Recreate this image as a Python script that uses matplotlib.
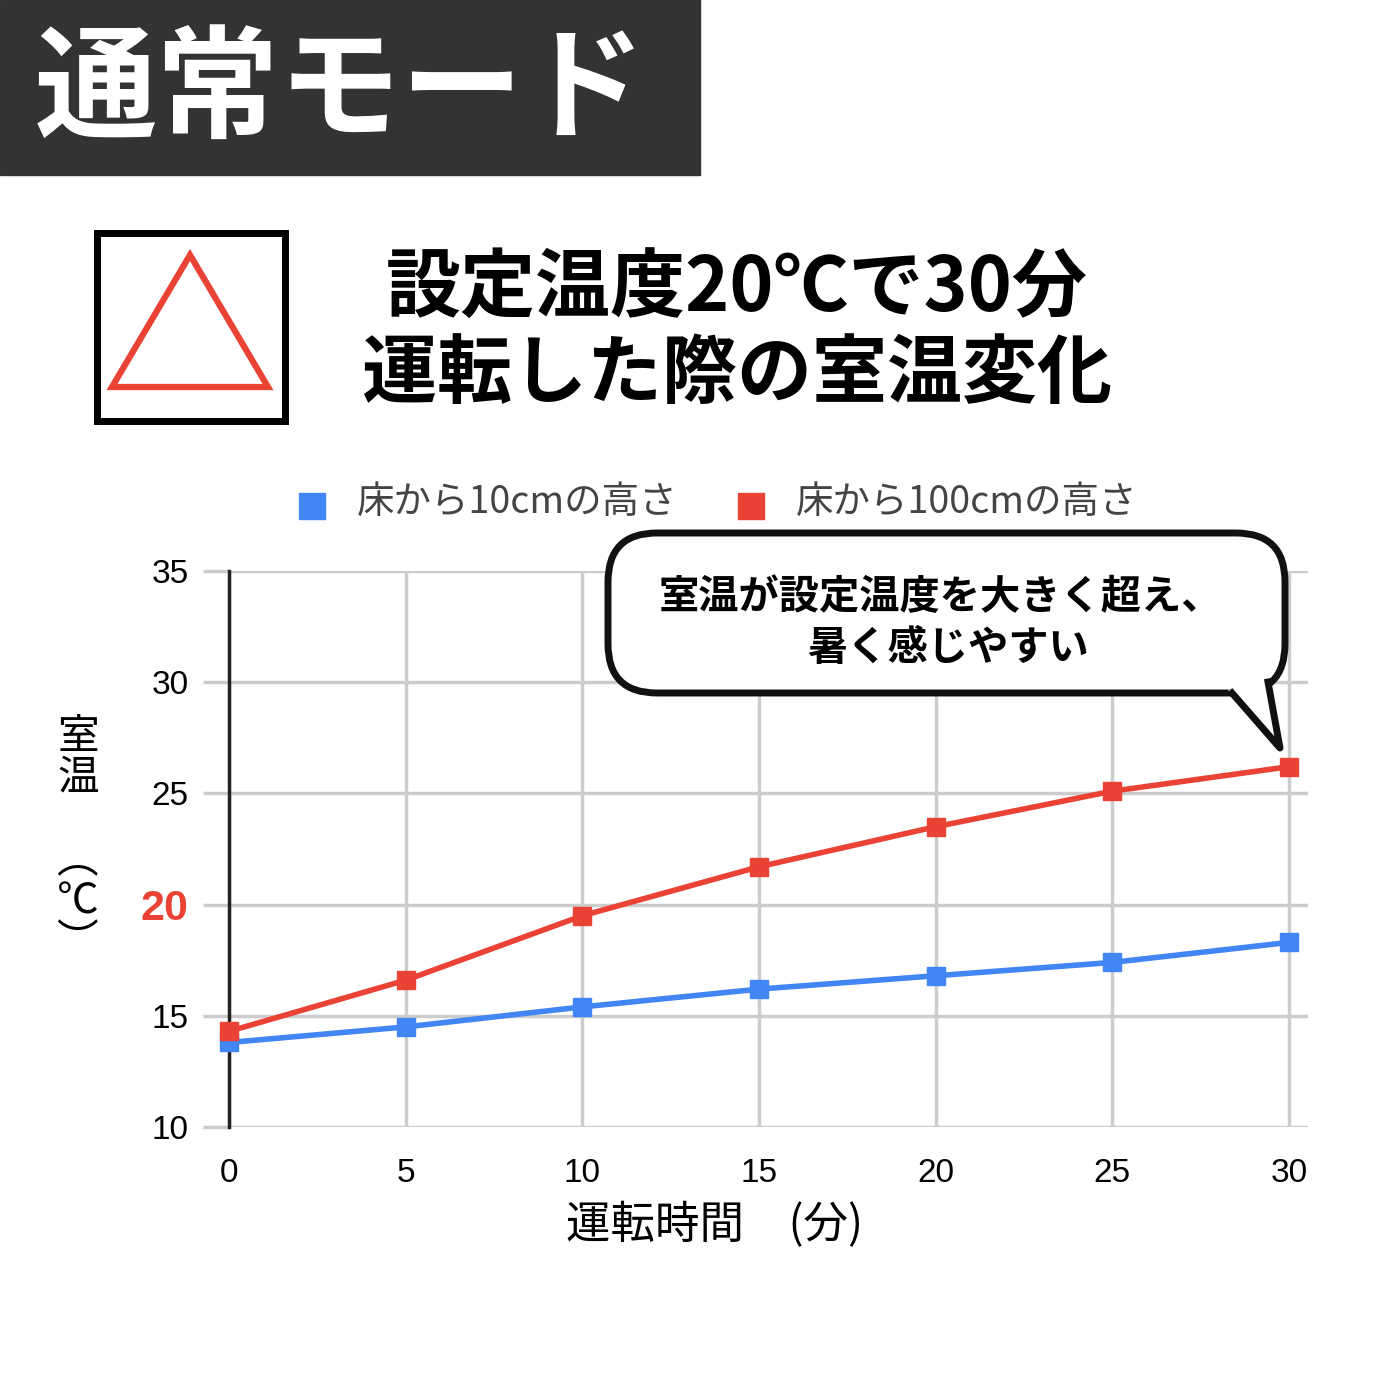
import matplotlib.pyplot as plt
from matplotlib.patches import Rectangle, Polygon, FancyBboxPatch
from matplotlib.lines import Line2D

plt.rcParams['font.family'] = ['Noto Sans CJK JP', 'DejaVu Sans']

minutes = [0, 5, 10, 15, 20, 25, 30]
temp_10cm = [13.8, 14.5, 15.4, 16.2, 16.8, 17.4, 18.3]
temp_100cm = [14.3, 16.6, 19.5, 21.7, 23.5, 25.1, 26.2]
yticks = [10, 15, 20, 25, 30, 35]
blue = "#4285f4"
red = "#ea4335"

W = 1400
fig = plt.figure(figsize=(14, 14), dpi=100)

def fx(px):
    return px / W

def fy(py):
    return 1 - py / W

# header block
fig.patches.append(Rectangle((0, fy(175)), fx(700), 175 / W, transform=fig.transFigure,
                             color="#333333", zorder=0))
fig.text(fx(340), fy(92), "通常モード", color="white", fontsize=88, fontweight="bold",
         ha="center", va="center")

# triangle box
fig.patches.append(Rectangle((fx(97), fy(421)), 188 / W, 188 / W, transform=fig.transFigure,
                             fill=False, edgecolor="black", lw=5))
fig.patches.append(Polygon([(fx(190), fy(255)), (fx(112), fy(387)), (fx(268), fy(387))],
                           closed=True, transform=fig.transFigure, fill=False,
                           edgecolor=red, lw=4.5))

fig.text(fx(737), fy(290), "設定温度20℃で30分", fontsize=54, fontweight="bold",
         ha="center", va="center")
fig.text(fx(737), fy(375), "運転した際の室温変化", fontsize=54, fontweight="bold",
         ha="center", va="center")

ax = fig.add_axes([fx(229), fy(1127), (1308 - 229) / W, (1127 - 571) / W])
ax.plot(minutes, temp_10cm, color=blue, lw=4, marker="s", ms=13, zorder=3, clip_on=False)
ax.plot(minutes, temp_100cm, color=red, lw=4, marker="s", ms=13, zorder=4, clip_on=False)
ax.set_xlim(0, 30.54)
ax.set_ylim(10, 35)
ax.set_xticks(minutes)
ax.set_yticks(yticks)
ax.grid(True, color="#cccccc", lw=2.5)
ax.set_axisbelow(True)
for s in ["top", "right", "bottom"]:
    ax.spines[s].set_visible(False)
ax.spines["left"].set_linewidth(2.5)
ax.spines["left"].set_color("#222222")
ax.tick_params(axis="y", length=19, width=2.5, color="#cccccc", labelsize=24, pad=10)
ax.tick_params(axis="x", length=0, labelsize=24, pad=22)
for lab in ax.get_xticklabels() + ax.get_yticklabels():
    lab.set_fontfamily("Liberation Sans")
for lab in ax.get_yticklabels():
    if lab.get_text() == "20":
        lab.set_color(red)
        lab.set_fontweight("bold")
        lab.set_fontsize(31)

fig.text(fx(715), fy(1225), "運転時間　(分)", fontsize=32, ha="center", va="center")
fig.text(fx(78), fy(840), "室\n温\n\n︵\n℃\n︶", fontsize=30, ha="center", va="center",
         linespacing=1.0)

# legend
fig.patches.append(Rectangle((fx(299), fy(519)), 26 / W, 26 / W, transform=fig.transFigure, color=blue))
fig.text(fx(357), fy(503), "床から10cmの高さ", fontsize=27, va="center", color="#444444")
fig.patches.append(Rectangle((fx(738), fy(519)), 26 / W, 26 / W, transform=fig.transFigure, color=red))
fig.text(fx(796), fy(503), "床から100cmの高さ", fontsize=27, va="center", color="#444444")

# callout
fig.patches.append(FancyBboxPatch((fx(608), fy(693)), (1285 - 608) / W, (693 - 533) / W,
                                  boxstyle="round,pad=0,rounding_size=0.035",
                                  transform=fig.transFigure, facecolor="white",
                                  edgecolor="#111111", lw=5, zorder=5))
fig.patches.append(Polygon([(fx(1228), fy(690)), (fx(1280), fy(748)), (fx(1270), fy(680))],
                           closed=True, transform=fig.transFigure, facecolor="white",
                           edgecolor="none", zorder=6))
fig.lines.append(Line2D([fx(1232), fx(1280), fx(1268)], [fy(693), fy(748), fy(682)],
                        transform=fig.transFigure, color="#111111", lw=5, zorder=7))
fig.text(fx(940), fy(598), "室温が設定温度を大きく超え、", fontsize=29, fontweight="bold",
         ha="center", va="center", zorder=8)
fig.text(fx(948), fy(648), "暑く感じやすい", fontsize=29, fontweight="bold",
         ha="center", va="center", zorder=8)

fig.savefig("out.png", dpi=100)
